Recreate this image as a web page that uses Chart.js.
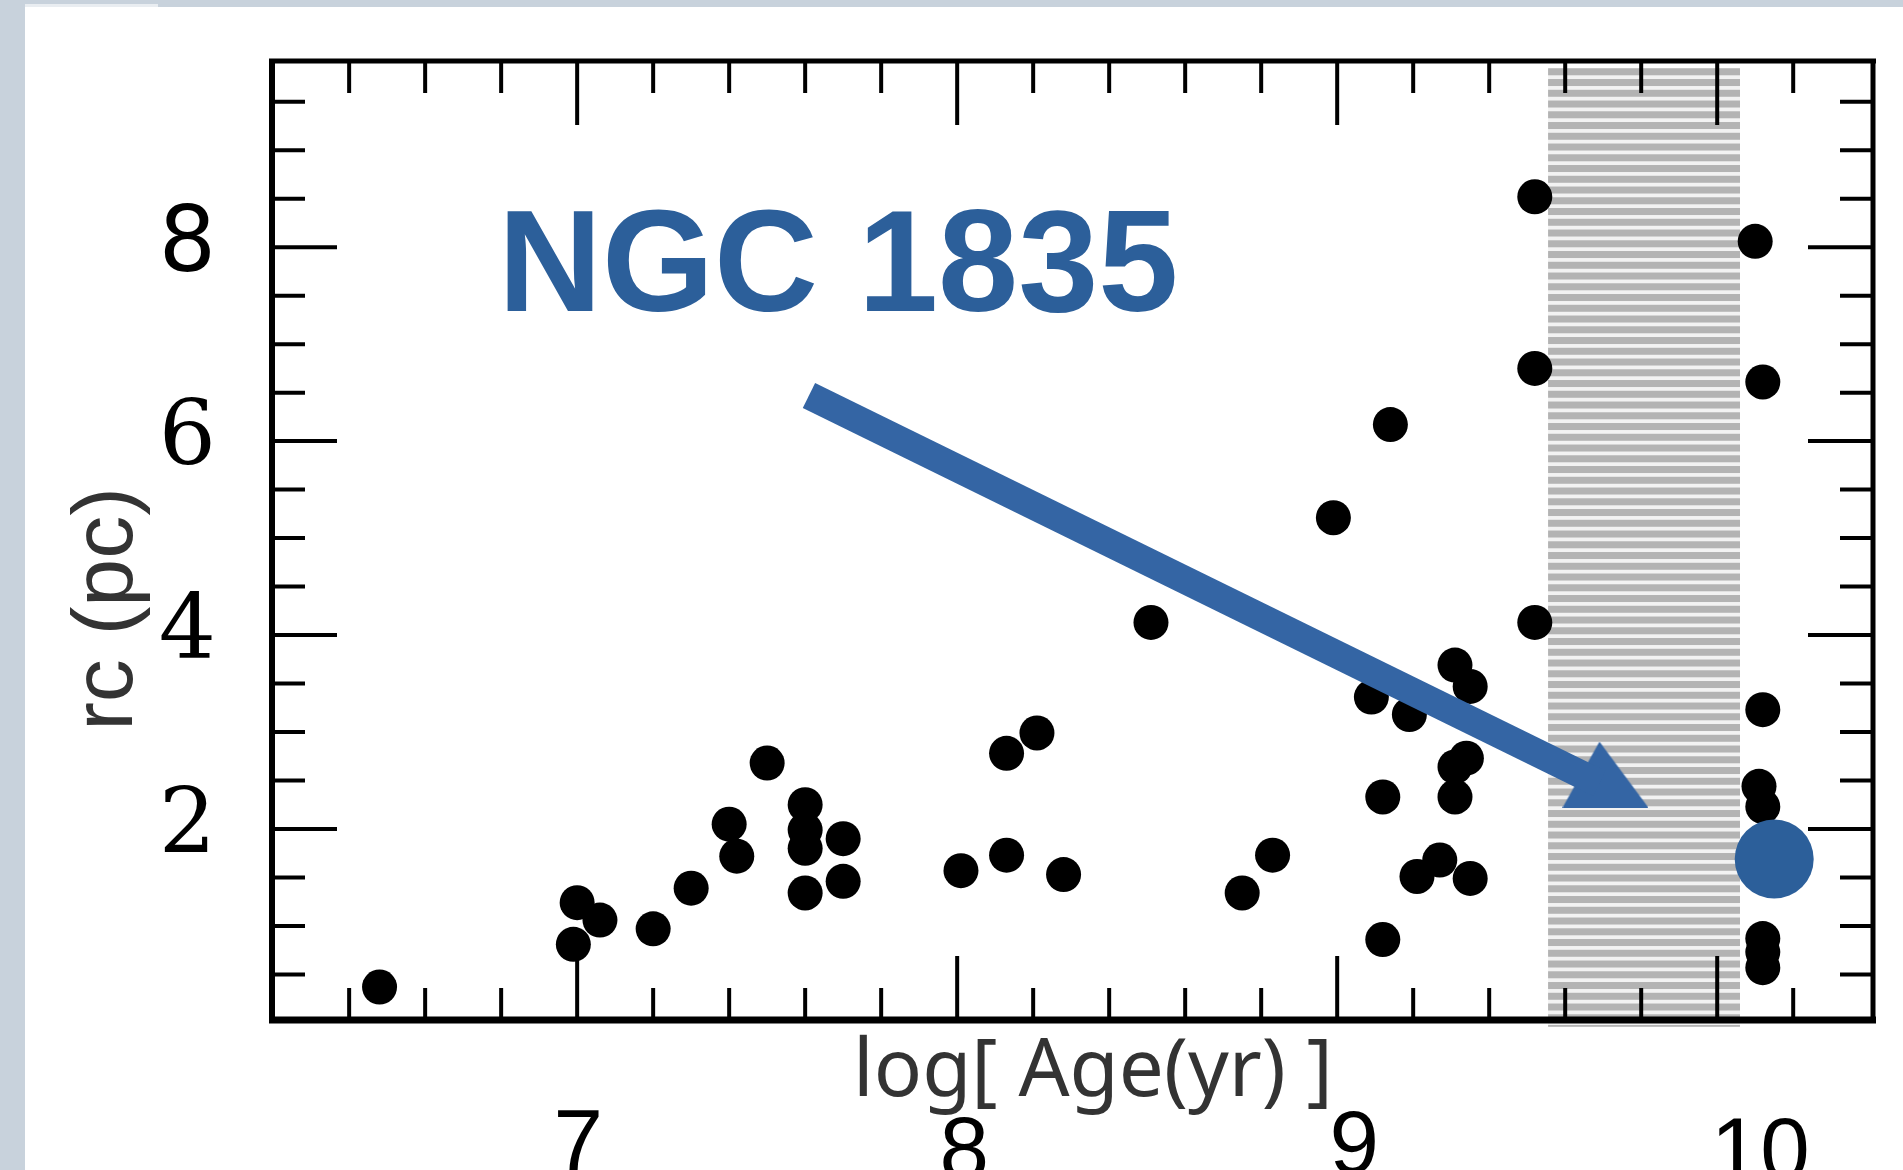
<!DOCTYPE html>
<html>
<head>
<meta charset="utf-8">
<title>rc vs log Age - NGC 1835</title>
<script src="https://cdn.jsdelivr.net/npm/chart.js@4.4.1/dist/chart.umd.min.js"></script>
<style>
  html, body { margin: 0; padding: 0; overflow: hidden; background: #c8d2dc; }
  #contenedor { position: relative; width: 1903px; height: 1170px; }
  #myChart { display: block; }
</style>
</head>
<body>
<div id="contenedor"><canvas id="myChart" width="1903" height="1170"></canvas></div>
<script>
// Datos: log(edad) y radio del núcleo rc (pc)
const logEdad = [
    6.48, 7.00, 7.06, 6.99, 7.20, 7.30, 7.40, 7.42, 7.50, 7.60,
    7.60, 7.60, 7.60, 7.70, 7.70, 8.01, 8.13, 8.21, 8.13, 8.28,
    8.51, 8.75, 8.83, 8.99, 9.14, 9.09, 9.19, 9.12, 9.12, 9.21,
    9.27, 9.35, 9.31, 9.35, 9.31, 9.34, 9.31, 9.52, 9.52, 9.52,
    10.10, 10.12, 10.12, 10.11, 10.12, 10.12, 10.12, 10.12
];
const radioCore = [
    0.37, 1.24, 1.06, 0.81, 0.97, 1.39, 2.05, 1.72, 2.68, 2.25,
    1.99, 1.80, 1.34, 1.90, 1.46, 1.57, 2.78, 2.99, 1.73, 1.53,
    4.13, 1.34, 1.73, 5.21, 6.17, 3.36, 3.18, 2.33, 0.86, 1.51,
    1.68, 1.49, 3.69, 3.47, 2.64, 2.73, 2.33, 8.52, 6.75, 4.13,
    8.06, 6.61, 3.23, 2.44, 2.23, 0.87, 0.73, 0.57
];

// NGC 1835 (punto azul grande)
const ngcEdad = [10.15];
const ngcRadio = [1.69];

// Flecha que apunta desde el texto hacia la banda
const flechaEdad = [7.61, 9.69];
const flechaRadio = [6.47, 2.47];
const puntaEdad = [9.706];
const puntaRadio = [2.56];

// Banda gris rayada
const bandaEdad = [9.555, 10.06];
const bandaRadio = [-0.04, 9.845];

// Ticks de los ejes
const ticksX = [7, 8, 9, 10];
const etiquetasX = ["7", "8", "9", "10"];
const ticksMenoresX = [6.4, 6.6, 6.8, 7.2, 7.4, 7.6, 7.8, 8.2, 8.4, 8.6, 8.8, 9.2, 9.4, 9.6, 9.8, 10.2];
const ticksY = [2, 4, 6, 8];
const ticksMenoresY = [0.5, 1, 1.5, 2.5, 3, 3.5, 4.5, 5, 5.5, 6.5, 7, 7.5, 8.5, 9, 9.5];

const azulTexto = "#2c5f9a";
const azulFlecha = "#3465a4";

// Punta de la flecha: triángulo más ancho que alto, como en el original
function crearPunta() {
    const c = document.createElement("canvas");
    c.width = 86;
    c.height = 66;
    const g = c.getContext("2d");
    g.fillStyle = azulFlecha;
    g.beginPath();
    g.moveTo(37, 0);
    g.lineTo(86, 66);
    g.lineTo(0, 66);
    g.closePath();
    g.fill();
    return c;
}

// Fondo: franja gris azulada a la izquierda y arriba
const fondoPlugin = {
    id: "fondo",
    beforeDraw(chart) {
        const ctx = chart.ctx;
        ctx.save();
        ctx.fillStyle = "#c8d2dc";
        ctx.fillRect(0, 0, chart.width, chart.height);
        ctx.fillStyle = "#e9edf1";
        ctx.fillRect(25, 4, 133, 3);
        ctx.fillStyle = "#ffffff";
        ctx.fillRect(25, 7, chart.width - 25, chart.height - 7);
        ctx.restore();
    }
};

// Banda rayada y marco con ticks hacia adentro
const marcoPlugin = {
    id: "marco",
    beforeDatasetsDraw(chart) {
        const ctx = chart.ctx;
        const ejeX = chart.scales.x;
        const ejeY = chart.scales.y;
        const { left, right, top, bottom } = chart.chartArea;

        // Banda
        const x0 = ejeX.getPixelForValue(bandaEdad[0]);
        const x1 = ejeX.getPixelForValue(bandaEdad[1]);
        const yArriba = ejeY.getPixelForValue(bandaRadio[1]);
        const yAbajo = ejeY.getPixelForValue(bandaRadio[0]);
        ctx.save();
        ctx.fillStyle = "#f2f2f2";
        ctx.fillRect(x0, yArriba, x1 - x0, yAbajo - yArriba);
        ctx.fillStyle = "#b3b3b3";
        for (let yy = yArriba; yy < yAbajo; yy += 10.75) {
            ctx.fillRect(x0, yy, x1 - x0, Math.min(7, yAbajo - yy));
        }

        // Ticks
        ctx.strokeStyle = "#000";
        ctx.lineWidth = 4;
        const linea = (a, b, c, d) => {
            ctx.beginPath();
            ctx.moveTo(a, b);
            ctx.lineTo(c, d);
            ctx.stroke();
        };
        ticksMenoresX.forEach(v => {
            const px = ejeX.getPixelForValue(v);
            linea(px, bottom, px, bottom - 32);
            linea(px, top, px, top + 32);
        });
        ticksX.forEach(v => {
            const px = ejeX.getPixelForValue(v);
            linea(px, bottom, px, bottom - 64);
            linea(px, top, px, top + 64);
        });
        ticksMenoresY.forEach(v => {
            const py = ejeY.getPixelForValue(v);
            linea(left, py, left + 33, py);
            linea(right, py, right - 33, py);
        });
        ticksY.forEach(v => {
            const py = ejeY.getPixelForValue(v);
            linea(left, py, left + 65, py);
            linea(right, py, right - 65, py);
        });

        // Marco
        ctx.lineWidth = 5;
        linea(left - 3, top, right + 3, top);
        linea(right, top, right, bottom + 3);
        ctx.lineWidth = 6;
        linea(left, top - 2, left, bottom + 3);
        ctx.lineWidth = 7;
        linea(left - 3, bottom, right + 3, bottom);
        ctx.restore();
    }
};

// Textos: NGC 1835, títulos de ejes y etiquetas del eje x
const textosPlugin = {
    id: "textos",
    afterDraw(chart) {
        const ctx = chart.ctx;
        const ejeX = chart.scales.x;

        ctx.save();
        ctx.fillStyle = azulTexto;
        ctx.font = 'bold 144px "Liberation Sans"';
        ctx.textAlign = "left";
        ctx.textBaseline = "alphabetic";
        ctx.fillText("NGC 1835", 498, 311);
        ctx.restore();

        ctx.save();
        ctx.fillStyle = "#333333";
        ctx.font = '86px "Liberation Sans"';
        ctx.translate(132, 609);
        ctx.rotate(-Math.PI / 2);
        ctx.textAlign = "center";
        ctx.textBaseline = "alphabetic";
        ctx.fillText("rc (pc)", 0, 0);
        ctx.restore();

        ctx.save();
        ctx.fillStyle = "#333333";
        ctx.font = '80px "Noto Sans"';
        ctx.textAlign = "center";
        ctx.textBaseline = "alphabetic";
        ctx.fillText("log[ Age(yr) ]", 1093, 1096);
        ctx.restore();

        // Las etiquetas del eje x estan un poco corridas en el original
        const corrimientoX = [1, 7, 17, 43];
        const lineaBase = [1172, 1179, 1173, 1180];
        ctx.save();
        ctx.fillStyle = "#000";
        ctx.font = '89px "Liberation Sans"';
        ctx.textAlign = "center";
        ctx.textBaseline = "alphabetic";
        ticksX.forEach((v, i) => {
            ctx.fillText(etiquetasX[i], ejeX.getPixelForValue(v) + corrimientoX[i], lineaBase[i]);
        });
        ctx.restore();
    }
};

const puntos = (xs, ys) => xs.map((x, i) => ({ x: x, y: ys[i] }));

const config = {
    type: "scatter",
    data: {
        datasets: [
            {
                type: "line",
                label: "flecha",
                data: puntos(flechaEdad, flechaRadio),
                borderColor: azulFlecha,
                borderWidth: 28,
                borderCapStyle: "butt",
                pointRadius: 0,
                fill: false,
                order: 0,
            },
            {
                label: "punta",
                data: puntos(puntaEdad, puntaRadio),
                pointStyle: crearPunta(),
                pointRadius: 40,
                backgroundColor: azulFlecha,
                borderWidth: 0,
                order: 1,
            },
            {
                label: "NGC 1835",
                data: puntos(ngcEdad, ngcRadio),
                pointRadius: 39.5,
                backgroundColor: azulTexto,
                borderWidth: 0,
                order: 2,
            },
            {
                label: "cúmulos",
                data: puntos(logEdad, radioCore),
                pointRadius: 17.5,
                backgroundColor: "#000000",
                borderWidth: 0,
                order: 3,
            }
        ]
    },
    options: {
        responsive: false,
        animation: false,
        events: [],
        layout: {
            autoPadding: false,
            padding: { top: 61, right: 30, left: 0, bottom: 0 }
        },
        plugins: {
            legend: { display: false },
            tooltip: { enabled: false }
        },
        scales: {
            x: {
                type: "linear",
                min: 6.197,
                max: 10.41,
                grid: { display: false },
                border: { display: false },
                ticks: { display: false },
                afterFit: (eje) => {
                    eje.height = 150;
                    eje.paddingLeft = 0;
                    eje.paddingRight = 0;
                }
            },
            y: {
                type: "linear",
                min: 0.03,
                max: 9.92,
                grid: { display: false },
                border: { display: false },
                ticks: {
                    color: "#000",
                    padding: 48,
                    autoSkip: false,
                    font: (contexto) => {
                        // el 8 del original es sin serifa
                        const esOcho = contexto.tick && contexto.tick.value === 8;
                        return { family: esOcho ? "DejaVu Sans" : "DejaVu Serif", size: 90 };
                    }
                },
                afterBuildTicks: (eje) => { eje.ticks = ticksY.map(v => ({ value: v })); },
                afterFit: (eje) => {
                    eje.width = 272;
                    eje.paddingTop = 0;
                    eje.paddingBottom = 0;
                }
            }
        }
    },
    plugins: [fondoPlugin, marcoPlugin, textosPlugin]
};

const myChart = document.getElementById("myChart");
const grafico = new Chart(myChart, config);
</script>
</body>
</html>
